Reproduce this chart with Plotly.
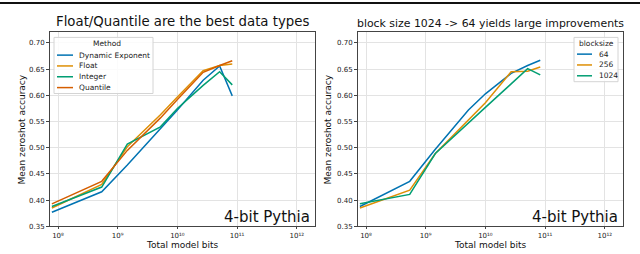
import plotly.graph_objects as go

# Total model bits (x positions shared by both panels)
model_bits = [7.9e7, 5.4e8, 1.45e9, 5.2e9, 1.0e10, 2.7e10, 5.1e10, 8.3e10]

# Left panel: data types
methods = ["Dynamic Exponent", "Float", "Integer", "Quantile"]
dyn_exp = [0.377, 0.416, 0.467, 0.537, 0.572, 0.629, 0.656, 0.599]
float_ = [0.385, 0.430, 0.502, 0.563, 0.597, 0.647, 0.657, 0.660]
integer = [0.388, 0.425, 0.507, 0.540, 0.575, 0.619, 0.645, 0.620]
quantile = [0.393, 0.436, 0.495, 0.557, 0.592, 0.644, 0.657, 0.666]
method_values = [dyn_exp, float_, integer, quantile]
method_colors = ["#0173b2", "#de8f05", "#029e73", "#d55e00"]

# Right panel: block sizes
blocksizes = ["64", "256", "1024"]
bs64 = [0.388, 0.436, 0.497, 0.572, 0.603, 0.642, 0.657, 0.667]
bs256 = [0.385, 0.419, 0.489, 0.554, 0.586, 0.645, 0.646, 0.654]
bs1024 = [0.393, 0.411, 0.489, 0.548, 0.577, 0.622, 0.651, 0.639]
block_values = [bs64, bs256, bs1024]
block_colors = ["#0173b2", "#de8f05", "#029e73"]

xtick_vals = [1e8, 1e9, 1e10, 1e11, 1e12]
xtick_text = ["10⁸", "10⁹", "10¹⁰", "10¹¹", "10¹²"]
ytick_vals = [0.35, 0.40, 0.45, 0.50, 0.55, 0.60, 0.65, 0.70]

FONT = "DejaVu Sans"
W, H = 640, 254


def px(x):
    return x / W


def py(y):
    return 1 - y / H


fig = go.Figure()
for name, vals, col in zip(methods, method_values, method_colors):
    fig.add_trace(go.Scatter(x=model_bits, y=vals, mode="lines", name=name,
                             line=dict(color=col, width=1.5), showlegend=False,
                             xaxis="x", yaxis="y"))
for name, vals, col in zip(blocksizes, block_values, block_colors):
    fig.add_trace(go.Scatter(x=model_bits, y=vals, mode="lines", name=name,
                             line=dict(color=col, width=1.5), showlegend=False,
                             xaxis="x2", yaxis="y2"))

xax = dict(type="log", range=[7.866, 12.305], tickvals=xtick_vals, ticktext=xtick_text,
           showgrid=True, gridcolor="#e3e3e3", gridwidth=1,
           showline=True, linecolor="#444", linewidth=1, mirror=True,
           ticks="outside", ticklen=2, tickcolor="#444",
           tickfont=dict(size=7, family=FONT, color="#222"),
           zeroline=False)
yax = dict(range=[0.35, 0.72], tickvals=ytick_vals, tickformat=".2f",
           showgrid=True, gridcolor="#e3e3e3", gridwidth=1,
           showline=True, linecolor="#444", linewidth=1, mirror=True,
           ticks="outside", ticklen=3, tickcolor="#444",
           tickfont=dict(size=7, family=FONT, color="#222"),
           zeroline=False)

fig.update_layout(
    width=W, height=H,
    margin=dict(l=0, r=0, t=0, b=0),
    paper_bgcolor="white", plot_bgcolor="white",
    font=dict(family=FONT),
    xaxis=dict(xax, domain=[px(50), px(315)], anchor="y"),
    yaxis=dict(yax, domain=[py(230), py(33)], anchor="x"),
    xaxis2=dict(xax, domain=[px(358), px(623)], anchor="y2"),
    yaxis2=dict(yax, domain=[py(230), py(33)], anchor="x2"),
    showlegend=False,
)

# titles
fig.add_annotation(text="Float/Quantile are the best data types", x=px((50 + 315) / 2), y=py(22),
                   xref="paper", yref="paper", showarrow=False, xanchor="center", yanchor="middle",
                   font=dict(size=13.3, family=FONT, color="#111"))
fig.add_annotation(text="block size 1024 -> 64 yields large improvements", x=px((358 + 623) / 2), y=py(24),
                   xref="paper", yref="paper", showarrow=False, xanchor="center", yanchor="middle",
                   font=dict(size=10.9, family=FONT, color="#111"))
# axis titles
for cx in [(50 + 315) / 2, (358 + 623) / 2]:
    fig.add_annotation(text="Total model bits", x=px(cx), y=py(249), xref="paper", yref="paper",
                       showarrow=False, xanchor="center", yanchor="middle",
                       font=dict(size=9, family=FONT, color="#111"))
for cx in [22, 328]:
    fig.add_annotation(text="Mean zeroshot accuracy", x=px(cx), y=py((33 + 230) / 2), xref="paper", yref="paper",
                       showarrow=False, xanchor="center", yanchor="middle", textangle=-90,
                       font=dict(size=9, family=FONT, color="#111"))
# panel labels
for xr, yr in [("x domain", "y domain"), ("x2 domain", "y2 domain")]:
    fig.add_annotation(text="4-bit Pythia", x=0.987, y=0.05, xref=xr, yref=yr,
                       showarrow=False, xanchor="right", yanchor="middle",
                       font=dict(size=15, family=FONT, color="#111"))


def add_legend(x0, x1, y0, y1, title, title_cx, names, colors, first_y, step, line_x0, line_x1, text_x):
    fig.add_shape(type="rect", xref="paper", yref="paper", x0=px(x0), x1=px(x1), y0=py(y1), y1=py(y0),
                  line=dict(color="#d4d4d4", width=1), fillcolor="rgba(255,255,255,0.85)", layer="above")
    fig.add_annotation(text=title, x=px(title_cx), y=py(y0 + 6), xref="paper", yref="paper",
                       showarrow=False, xanchor="center", yanchor="middle",
                       font=dict(size=7.5, family=FONT, color="#222"))
    for i, (nm, col) in enumerate(zip(names, colors)):
        yy = first_y + i * step
        fig.add_shape(type="line", xref="paper", yref="paper", x0=px(line_x0), x1=px(line_x1),
                      y0=py(yy), y1=py(yy), line=dict(color=col, width=1.5), layer="above")
        fig.add_annotation(text=nm, x=px(text_x), y=py(yy), xref="paper", yref="paper",
                           showarrow=False, xanchor="left", yanchor="middle",
                           font=dict(size=7.5, family=FONT, color="#222"))


add_legend(54, 153, 38, 95, "Method", 107, methods, method_colors, 56, 11, 57, 73, 77)
add_legend(574, 618, 38, 83, "blocksize", 596, blocksizes, block_colors, 55, 11, 577, 592, 597)

# top border line of the page crop
fig.add_shape(type="line", xref="paper", yref="paper", x0=0, x1=1, y0=py(3), y1=py(3),
              line=dict(color="#111", width=2))

fig.write_html("out.html", config={"displayModeBar": False},
               post_script="document.body.style.margin='0';document.body.style.overflow='hidden';")
